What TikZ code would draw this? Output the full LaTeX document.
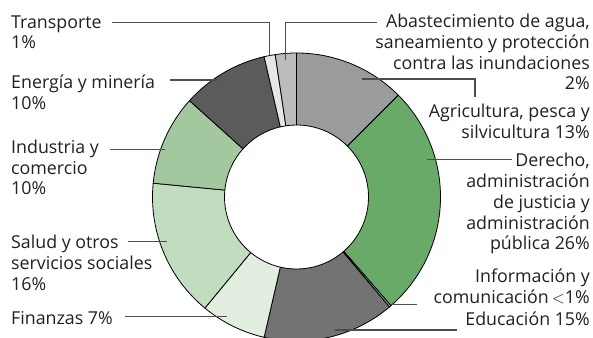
\documentclass[tikz,border=0pt]{standalone}
\usepackage{fontspec}
\setmainfont{Open Sans}
\usetikzlibrary{calc}
\definecolor{txt}{HTML}{231F20}
\definecolor{lead}{HTML}{4D4D4D}
\definecolor{cAgric}{HTML}{9B9B9B}
\definecolor{cDerecho}{HTML}{6AAA69}
\definecolor{cInfo}{HTML}{A3C9A0}
\definecolor{cEduc}{HTML}{737373}
\definecolor{cFin}{HTML}{E2EEDF}
\definecolor{cSalud}{HTML}{C2DCC0}
\definecolor{cInd}{HTML}{A3C8A0}
\definecolor{cEner}{HTML}{5B5B5B}
\definecolor{cTrans}{HTML}{E6E6E6}
\definecolor{cAbast}{HTML}{BCBCBC}
\newcommand\donutslice[3]{%
  \filldraw[slicestyle, fill=#3] ([shift={(c)}]#1:144pt) arc[start angle=#1, end angle=#2, radius=144pt]
    -- ([shift={(c)}]#2:72pt) arc[start angle=#2, end angle=#1, radius=72pt] -- cycle;}
\begin{document}
\begin{tikzpicture}[x=1pt, y=1pt,
  slicestyle/.style={draw=black, line width=0.8pt, line join=round},
  leader/.style={draw=lead, line width=1.2pt},
  lbl/.style={inner sep=0pt, text=txt, font=\fontsize{17.8}{20.8}\selectfont},
  lblL/.style={lbl, anchor=base west, align=left},
  lblR/.style={lbl, anchor=base east, align=right}]
\useasboundingbox (0,0) rectangle (593,337);
\clip (0,0) rectangle (593,337);
\coordinate (c) at (296.5,140);
% slices
\donutslice{90}{45}{cAgric}
\donutslice{45}{-49}{cDerecho}
\donutslice{-49}{-49.8}{cInfo}
\donutslice{-49.8}{-103}{cEduc}
\donutslice{-103}{-129.5}{cFin}
\donutslice{-129.5}{-185.5}{cSalud}
\donutslice{-185.5}{-222}{cInd}
\donutslice{-222}{-257}{cEner}
\donutslice{-257}{-261.5}{cTrans}
\donutslice{-261.5}{-270}{cAbast}
% left labels (anchored at the baseline of the last line)
\node[lblL] (tTrans) at (11,288) {Transporte\\1\%};
\node[lblL] (tEner) at (11,227.7) {Energía y minería\\10\%};
\node[lblL] (tInd) at (11,142) {Industria y\\comercio\\10\%};
\node[lblL] (tSalud) at (11,47) {Salud y otros\\servicios sociales\\16\%};
\node[lblL] (tFin) at (11,12.7) {Finanzas 7\%};
% right labels
\node[lblR] (tAbast) at (590,247) {Abastecimiento de agua,\\saneamiento y protección\\contra las inundaciones\\2\%};
\node[lblR] (tAgric) at (590,198.7) {Agricultura, pesca y\\silvicultura 13\%};
\node[lblR] (tDer) at (590,87) {Derecho,\\administración\\de justicia y\\administración\\pública 26\%};
\node[lblR] (tInfo) at (590,33.7) {Información y\\comunicación\,$<$1\%};
\node[lblR] (tEduc) at (590,12) {Educación 15\%};
% leader coordinates
\coordinate (lTrans0) at (112,314.3);
\coordinate (lTrans1) at (269.3,314.3);
\coordinate (lTrans2) at (269.3,282);
\coordinate (lAbast0) at (376.7,314.3);
\coordinate (lAbast1) at (285.5,314.3);
\coordinate (lAbast2) at (285.5,277);
\coordinate (lAgric0) at (361.7,258);
\coordinate (lAgric1) at (475,258);
\coordinate (lAgric2) at (475,240);
\coordinate (lDer0) at (427,177.7);
\coordinate (lDer1) at (511.7,177.7);
\coordinate (lInfo0) at (391.7,32.7);
\coordinate (lInfo1) at (416.7,32.7);
\coordinate (lEduc0) at (335,7);
\coordinate (lEduc1) at (457,7);
\coordinate (lEner0) at (170,257);
\coordinate (lEner1) at (218.3,257);
\coordinate (lInd0) at (110,187.7);
\coordinate (lInd1) at (165,187.7);
\coordinate (lSalud0) at (128.3,95.7);
\coordinate (lSalud1) at (166.7,95.7);
\coordinate (lFin0) at (125,20.3);
\coordinate (lFin1) at (226.7,20.3);
% leaders
\draw[leader] (lTrans0) -- (lTrans1) -- (lTrans2);
\draw[leader] (lAbast0) -- (lAbast1) -- (lAbast2);
\draw[leader] (lAgric0) -- (lAgric1) -- (lAgric2);
\draw[leader] (lDer0) -- (lDer1);
\draw[leader] (lInfo0) -- (lInfo1);
\draw[leader] (lEduc0) -- (lEduc1);
\draw[leader] (lEner0) -- (lEner1);
\draw[leader] (lInd0) -- (lInd1);
\draw[leader] (lSalud0) -- (lSalud1);
\draw[leader] (lFin0) -- (lFin1);
\end{tikzpicture}
\end{document}
